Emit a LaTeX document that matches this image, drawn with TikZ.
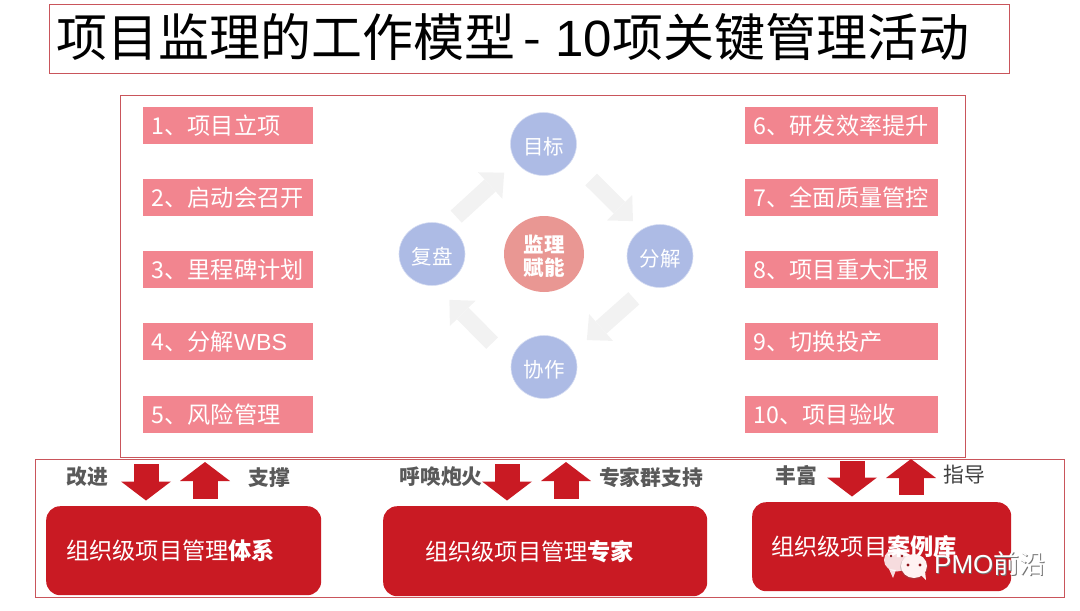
\documentclass[tikz,border=0pt]{standalone}
\usepackage{fontspec}
\setmainfont{Noto Sans CJK SC}
\newfontfamily\latinfont{Liberation Sans}
\usetikzlibrary{arrows.meta,shapes.geometric}
\definecolor{framered}{HTML}{C9555B}
\definecolor{itempink}{HTML}{F2858F}
\definecolor{deepred}{HTML}{C91A23}
\definecolor{stepblue}{HTML}{ADBBE5}
\definecolor{hubpink}{HTML}{E99793}
\definecolor{labelgray}{HTML}{595959}
\newcommand{\fsize}[1]{\fontsize{#1}{#1}\selectfont}
\tikzset{
  frame/.style={draw=framered,line width=0.8pt},
  itembox/.style={fill=itempink,text=white,font=\fsize{23.2},anchor=west,minimum height=37pt,inner xsep=8.5pt,inner ysep=0pt,text height=21pt,text depth=3pt,text width=#1,align=left},
  stepnode/.style={ellipse,fill=stepblue,draw=stepblue!50!white,line width=0.6pt,text=white,font=\fsize{20.5},minimum width=66pt,minimum height=63pt,inner sep=0pt,text height=22pt,text depth=2pt},
  cyclearrow/.style={draw=black!5,line width=16.5pt,-{Triangle[width=36pt,length=19pt,line width=0pt]}},
  redarrow/.style={draw=deepred,line width=25pt,-{Triangle[width=50pt,length=19pt,line width=0pt]}},
  redbox/.style={fill=deepred,text=white,rounded corners=14pt,font=\fsize{23.2},anchor=north west,minimum height=#1,inner ysep=0pt,align=left},
  sidelabel/.style={font=\fsize{20.8}\bfseries,text=labelgray,inner sep=0pt}
}
\begin{document}
\begin{tikzpicture}[x=1pt,y=-1pt]
\useasboundingbox (0,0) rectangle (1080,611);
\node[frame,anchor=north west,minimum width=960pt,minimum height=69pt] (titlebox) at (49,4) {};
\node[anchor=west,font=\fsize{51},inner sep=0pt] (title) at (56,37) {项目监理的工作模型\hspace{8pt}-\hspace{3pt} {\latinfont 10}项关键管理活动};
\node[frame,anchor=north west,minimum width=845pt,minimum height=362pt] (mainframe) at (120,95) {};
\node[frame,anchor=north west,minimum width=1029pt,minimum height=138pt] (baseframe) at (35,459) {};
% activity lists
\foreach \n/\y/\lab in {1/125.5/项目立项, 2/197.5/启动会召开, 3/269.5/里程碑计划, 4/341.5/分解{\latinfont WBS}, 5/414.5/风险管理}
  \node[itembox=153pt] (left\n) at (143,\y) {\n、\lab};
\foreach \n/\y/\lab in {6/125.5/研发效率提升, 7/197.5/全面质量管控, 8/269.5/项目重大汇报, 9/341.5/切换投产, 10/414.5/项目验收}
  \node[itembox=176pt] (right\n) at (745,\y) {\n、\lab};
% cycle
\node[stepnode] (goal) at (543.5,144) {目标};
\node[stepnode] (split) at (660,256) {分解};
\node[stepnode] (work) at (544,367) {协作};
\node[stepnode] (review) at (432,254) {复盘};
\node[ellipse,fill=hubpink,text=white,font=\fsize{20.5}\bfseries,minimum width=80pt,minimum height=76pt,inner sep=0pt,align=center] (hub) at (544,254) {\rule{0pt}{22pt}监理\\[3pt]赋能};
\draw[cyclearrow,shorten <=27pt,shorten >=12pt] (goal.-30)--(split.125);
\draw[cyclearrow,shorten <=19pt,shorten >=18pt] (split.248)--(work.27);
\draw[cyclearrow,shorten <=27pt,shorten >=20pt] (work.172)--(review.-84);
\draw[cyclearrow,shorten <=13pt,shorten >=16pt] (review.63)--(goal.213);
% groups at the bottom
\node[redbox=89pt,text width=235pt,inner xsep=20pt] (system) at (46,506) {组织级项目管理{\bfseries 体系}};
\node[redbox=90pt,text width=240pt,inner xsep=42pt] (expert) at (383,506) {组织级项目管理{\bfseries 专家}};
\node[redbox=89pt,text width=221pt,inner xsep=19pt] (cases) at (752,502) {组织级项目{\bfseries 案例库}};
\foreach \group/\dn/\up/\top in {system/146/205/464, expert/507/566/464, cases/852/911/461}{
  \coordinate (\group-in) at (\dn,\top);
  \coordinate (\group-out) at (\up,\top-2);
  \draw[redarrow,shorten >=5.5pt] (\group-in)--(\group-in |- \group.north);
  \draw[redarrow,shorten <=7.5pt] (\group-out |- \group.north)--(\group-out);
}
\node[sidelabel] (improve) at (87,477) {改进};
\node[sidelabel] (support) at (269,478) {支撑};
\node[sidelabel] (callout) at (441,477) {呼唤炮火};
\node[sidelabel] (backing) at (651,478) {专家群支持};
\node[sidelabel] (enrich) at (796,475) {丰富};
\node[sidelabel,text=black!75,font=\fsize{20.8}] (guide) at (964,475) {指导};
% watermark
\fill[white,opacity=0.85] (897,560) ellipse (13 and 11.5);
\fill[white,opacity=0.85] (889,569)--(893,578)--(896,570)--cycle;
\fill[black!60,opacity=0.25] (914,567) ellipse (14 and 12.5);
\fill[red!5!white] (914,566) ellipse (13 and 12);
\fill[red!5!white] (920,574)--(926,580)--(925,571)--cycle;
\foreach \dotx/\doty in {908/565, 920/565} \fill[deepred!70!black] (\dotx,\doty) circle (1.6);
\foreach \dotx/\doty in {891/556, 902/556} \fill[deepred!70!black] (\dotx,\doty) circle (1.4);
\node[anchor=west,font=\fsize{26},text=black!55,inner sep=0pt] (markshadow) at (934.7,564.7) {{\latinfont PMO}前沿};
\node[anchor=west,font=\fsize{26},text=white,inner sep=0pt] (mark) at (934,564) {{\latinfont PMO}前沿};
\end{tikzpicture}
\end{document}
